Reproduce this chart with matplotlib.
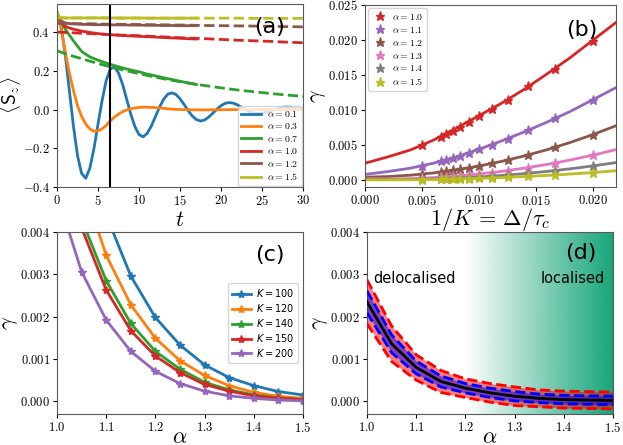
import numpy as np
import matplotlib
matplotlib.use("Agg")
import matplotlib.pyplot as plt
from matplotlib.ticker import FuncFormatter, MultipleLocator
from matplotlib.colors import to_rgb

plt.rcParams['mathtext.fontset'] = 'cm'
plt.rcParams['font.family'] = ['DejaVu Sans']

# ---------------- Panel (a) data ----------------
t_blue = [0, 0.5, 1.0, 1.5, 2.0, 2.5, 3.0, 3.5, 4.0, 4.5, 5.0, 5.5, 6.0, 6.5, 7.0,
          7.5, 8.0, 8.5, 9.0, 9.5, 10.0, 10.5, 11.0, 11.5, 12.0, 12.5, 13.0, 13.5, 14.0,
          14.5, 15.0, 15.5, 16.0, 16.5, 17.0, 17.5, 18.0, 18.5, 19.0, 19.5, 20.0, 20.5,
          21.0, 21.5, 22.0, 22.5, 23.0, 23.5, 24.0, 24.5, 25.0, 25.5, 26.0, 26.5, 27.0,
          27.5, 28.0, 28.5, 29.0, 29.5, 30.0]
sz_blue = [0.5, 0.430, 0.285, 0.101, -0.084, -0.237, -0.330, -0.355, -0.304, -0.203,
           -0.076, 0.047, 0.150, 0.210, 0.219, 0.189, 0.130, 0.053, -0.024, -0.088,
           -0.129, -0.141, -0.123, -0.086, -0.037, 0.012, 0.053, 0.079, 0.086, 0.078,
           0.056, 0.026, -0.006, -0.033, -0.052, -0.059, -0.054, -0.039, -0.019, 0.002,
           0.020, 0.032, 0.036, 0.033, 0.024, 0.012, -0.001, -0.011, -0.018, -0.021,
           -0.019, -0.015, -0.008, 0.000, 0.006, 0.011, 0.013, 0.012, 0.009, 0.005, 0.000]

t_orange = [0, 0.5, 1.0, 1.5, 2.0, 2.5, 3.0, 3.5, 4.0, 4.5, 5.0, 5.5, 6.0, 6.5, 7.0,
            7.5, 8.0, 8.5, 9.0, 9.5, 10.0, 10.5, 11, 12, 13, 14, 15, 16, 18, 20, 22,
            24, 26, 28, 30]
sz_orange = [0.5, 0.42, 0.30, 0.19, 0.10, 0.02, -0.035, -0.075, -0.100, -0.112, -0.110,
             -0.100, -0.082, -0.058, -0.040, -0.024, -0.011, -0.002, 0.004, 0.008, 0.011,
             0.012, 0.012, 0.010, 0.006, 0.002, 0.0, -0.001, -0.002, -0.001, 0.0,
             0.0, 0.0, 0.0, 0.0]

t_sim = [0, 0.25, 0.5, 1.0, 1.5, 2, 3, 4, 5, 6, 7, 8, 9, 10, 11, 12, 13, 14, 15, 16, 17]
sz_green = [0.5, 0.478, 0.455, 0.415, 0.385, 0.355, 0.300, 0.272, 0.255, 0.240, 0.227,
            0.215, 0.204, 0.195, 0.183, 0.174, 0.164, 0.155, 0.146, 0.137, 0.129]
sz_red = [0.5, 0.470, 0.450, 0.430, 0.421, 0.415, 0.405, 0.398, 0.392, 0.388, 0.385,
          0.382, 0.380, 0.378, 0.376, 0.374, 0.372, 0.370, 0.368, 0.366, 0.364]
sz_brown = [0.5, 0.470, 0.458, 0.447, 0.444, 0.442, 0.440, 0.439, 0.438, 0.438, 0.437,
            0.437, 0.436, 0.436, 0.435, 0.435, 0.434, 0.434, 0.433, 0.433, 0.433]
sz_yellow = [0.5, 0.480, 0.475, 0.473, 0.473, 0.473, 0.473, 0.473, 0.473, 0.473, 0.473,
             0.473, 0.473, 0.473, 0.472, 0.472, 0.472, 0.472, 0.472, 0.472, 0.472]

t_fit = [0, 2, 4, 6, 8, 10, 12, 14, 16, 18, 20, 22, 24, 26, 28, 30]
fit_green = [0.303, 0.275, 0.250, 0.226, 0.205, 0.185, 0.167, 0.151, 0.137, 0.124,
             0.112, 0.101, 0.092, 0.083, 0.075, 0.068]
fit_red = [0.400, 0.396, 0.392, 0.388, 0.384, 0.381, 0.377, 0.373, 0.369, 0.366,
           0.362, 0.358, 0.355, 0.352, 0.348, 0.345]
fit_brown = [0.445, 0.444, 0.443, 0.441, 0.440, 0.439, 0.438, 0.437, 0.436, 0.434,
             0.433, 0.432, 0.431, 0.430, 0.428, 0.427]
fit_yellow = [0.473, 0.473, 0.473, 0.473, 0.472, 0.472, 0.472, 0.472, 0.472, 0.472,
              0.472, 0.472, 0.471, 0.471, 0.471, 0.471]
t_marker = 6.5
labels_a = [r'$\alpha = 0.1$', r'$\alpha = 0.3$', r'$\alpha = 0.7$',
            r'$\alpha = 1.0$', r'$\alpha = 1.2$', r'$\alpha = 1.5$']

# ---------------- Panel (b) data ----------------
K_values = [200, 150, 140, 130, 120, 110, 100, 90, 80, 70, 60, 50]
gam_a10 = [0.0050, 0.0062, 0.0066, 0.0070, 0.0076, 0.0083, 0.0092, 0.0101, 0.0115, 0.0134, 0.0159, 0.0199]
gam_a11 = [0.0020, 0.0027, 0.0029, 0.0031, 0.0035, 0.0039, 0.0044, 0.0050, 0.0059, 0.0071, 0.0088, 0.0115]
gam_a12 = [0.00084, 0.00114, 0.00125, 0.00137, 0.00153, 0.00173, 0.0020, 0.00236, 0.00286, 0.00357, 0.00468, 0.0065]
gam_a13 = [0.00026, 0.0004, 0.00046, 0.00052, 0.0006, 0.00071, 0.00086, 0.00106, 0.00135, 0.00177, 0.00244, 0.00356]
gam_a14 = [0.00011, 0.00018, 0.00021, 0.00024, 0.00029, 0.00035, 0.00043, 0.00055, 0.00071, 0.00096, 0.00135, 0.00202]
gam_a15 = [0.00005, 0.00009, 0.00011, 0.00013, 0.00015, 0.00019, 0.00023, 0.00029, 0.00038, 0.00051, 0.00072, 0.00107]

invK_fit = [0, 0.002, 0.004, 0.006, 0.008, 0.010, 0.012, 0.014, 0.016, 0.018, 0.020, 0.022]
fitb_a10 = [0.0024, 0.0033, 0.0043, 0.0057, 0.0074, 0.0092, 0.0110, 0.0130, 0.0152, 0.0175, 0.0200, 0.0225]
fitb_a11 = [0.0008, 0.0012, 0.0017, 0.0024, 0.0033, 0.0044, 0.0056, 0.0069, 0.0083, 0.0098, 0.0115, 0.0132]
fitb_a12 = [0.0004, 0.00049, 0.00069, 0.00101, 0.00145, 0.0020, 0.00267, 0.00345, 0.00435, 0.00537, 0.0065, 0.00775]
fitb_a13 = [0.00016, 0.00014, 0.0002, 0.00034, 0.00056, 0.00086, 0.00124, 0.0017, 0.00224, 0.00286, 0.00356, 0.00434]
fitb_a14 = [0.0001, 0.00007, 0.00008, 0.00015, 0.00026, 0.00043, 0.00065, 0.00092, 0.00123, 0.0016, 0.00202, 0.00249]
fitb_a15 = [0.00003, 0.00002, 0.00003, 0.00007, 0.00014, 0.00023, 0.00035, 0.00049, 0.00066, 0.00085, 0.00107, 0.00132]
labels_b = [r'$\alpha = 1.0$', r'$\alpha = 1.1$', r'$\alpha = 1.2$',
            r'$\alpha = 1.3$', r'$\alpha = 1.4$', r'$\alpha = 1.5$']

# ---------------- Panel (c) data ----------------
alpha_c = [1.0, 1.05, 1.1, 1.15, 1.2, 1.25, 1.3, 1.35, 1.4, 1.45, 1.5]
gam_K100 = [0.0091, 0.0062, 0.0044, 0.00296, 0.00198, 0.00133, 0.00086, 0.00056, 0.00037, 0.00023, 0.00015]
gam_K120 = [0.0075, 0.0052, 0.00345, 0.00228, 0.00149, 0.00096, 0.00061, 0.00037, 0.00021, 0.00012, 0.00007]
gam_K140 = [0.0065, 0.0043, 0.00285, 0.00184, 0.00118, 0.00076, 0.00045, 0.00027, 0.00015, 0.00008, 0.00004]
gam_K150 = [0.0062, 0.0041, 0.00263, 0.00167, 0.00107, 0.00068, 0.0004, 0.00024, 0.00013, 0.00007, 0.00004]
gam_K200 = [0.0049, 0.00306, 0.00192, 0.00118, 0.00071, 0.00042, 0.00024, 0.00013, 0.00007, 0.00003, 0.00001]
labels_c = [r'$K = 100$', r'$K = 120$', r'$K = 140$', r'$K = 150$', r'$K = 200$']

# ---------------- Panel (d) data ----------------
alpha_d = [1.0, 1.05, 1.1, 1.15, 1.2, 1.25, 1.3, 1.35, 1.4, 1.45, 1.5]
gam_mean = [0.00235, 0.00136, 0.00080, 0.00047, 0.00031, 0.00020, 0.00012, 0.00007, 0.00004, 0.00003, 0.00002]
gam_sigma = [0.00026, 0.00021, 0.00015, 0.00013, 0.00011, 0.00011, 0.00011, 0.0001, 0.0001, 0.0001, 0.0001]
loc_start = 1.2
loc_color = '#17a57a'

# ---------------- Figure ----------------
fig = plt.figure(figsize=(6.23, 4.45), dpi=100)
W, H = 623, 445


def px_axes(l, r, t, b):
    return fig.add_axes([l / W, (H - b) / H, (r - l) / W, (b - t) / H])


axA = px_axes(57, 303, 4, 187)
axB = px_axes(365, 616, 5, 187)
axC = px_axes(57, 303, 232, 414)
axD = px_axes(367, 613, 232, 414)

TICK_FS = 9
LAB_FS = 16
LEG_FS = 7
PANEL_FS = 16
YPAD = 0


def fmt(dec):
    return FuncFormatter(lambda v, p: r'$%s$' % (('%.' + str(dec) + 'f') % v))


for ax in (axA, axB, axC, axD):
    ax.tick_params(labelsize=TICK_FS, length=3, pad=2)
    for s in ax.spines.values():
        s.set_color('0.35')

# (a)
ca = ['tab:blue', 'tab:orange', 'tab:green', 'tab:red', 'tab:brown', 'tab:olive']
lw = 2
axA.plot(t_blue, sz_blue, color=ca[0], lw=lw, label=labels_a[0])
axA.plot(t_orange, sz_orange, color=ca[1], lw=lw, label=labels_a[1])
axA.plot(t_sim, sz_green, color=ca[2], lw=lw, label=labels_a[2])
axA.plot(t_sim, sz_red, color=ca[3], lw=lw, label=labels_a[3])
axA.plot(t_sim, sz_brown, color=ca[4], lw=lw, label=labels_a[4])
axA.plot(t_sim, sz_yellow, color=ca[5], lw=lw, label=labels_a[5])
axA.plot(t_fit, fit_green, color=ca[2], lw=lw, ls='--')
axA.plot(t_fit, fit_red, color=ca[3], lw=lw, ls='--')
axA.plot(t_fit, fit_brown, color=ca[4], lw=lw, ls='--')
axA.plot(t_fit, fit_yellow, color=ca[5], lw=lw, ls='--')
axA.axvline(t_marker, color='k', lw=1.5)
axA.set_xlim(0, 30)
axA.set_ylim(-0.40, 0.545)
axA.xaxis.set_major_locator(MultipleLocator(5))
axA.yaxis.set_major_locator(MultipleLocator(0.2))
axA.xaxis.set_major_formatter(FuncFormatter(lambda v, p: r'$%d$' % v))
axA.yaxis.set_major_formatter(fmt(1))
axA.set_xlabel(r'$t$', fontsize=LAB_FS)
axA.xaxis.set_label_coords(0.5, -0.125)
axA.set_ylabel(r'$\langle \mathsf{S}_z \rangle$', fontsize=14, labelpad=YPAD)
axA.legend(loc='lower right', fontsize=LEG_FS, handlelength=2.0, labelspacing=0.25,
           borderpad=0.35, borderaxespad=0.15, handletextpad=0.6)
axA.text(0.80, 0.875, '(a)', transform=axA.transAxes, fontsize=PANEL_FS, va='center')

# (b)
invK = [1.0 / k for k in K_values]
cb = ['tab:red', 'tab:purple', 'tab:brown', 'tab:pink', 'tab:gray', 'tab:olive']
for g, f, c, lab in zip([gam_a10, gam_a11, gam_a12, gam_a13, gam_a14, gam_a15],
                        [fitb_a10, fitb_a11, fitb_a12, fitb_a13, fitb_a14, fitb_a15], cb, labels_b):
    axB.plot(invK_fit, f, color=c, lw=2)
    axB.plot(invK, g, ls='none', marker='*', ms=6.5, color=c, label=lab)
axB.set_xlim(0, 0.022)
axB.set_ylim(-0.001, 0.025)
axB.xaxis.set_major_locator(MultipleLocator(0.005))
axB.yaxis.set_major_locator(MultipleLocator(0.005))
axB.xaxis.set_major_formatter(fmt(3))
axB.yaxis.set_major_formatter(fmt(3))
axB.set_xlabel(r'$1/K\, =\, \Delta/\tau_c$', fontsize=LAB_FS)
axB.xaxis.set_label_coords(0.5, -0.105)
axB.set_ylabel(r'$\gamma$', fontsize=LAB_FS, labelpad=YPAD)
axB.legend(loc='upper left', fontsize=LEG_FS, numpoints=1, labelspacing=0.3,
           borderpad=0.4, borderaxespad=0.3, handletextpad=0.5, handlelength=1.6)
axB.text(0.80, 0.865, '(b)', transform=axB.transAxes, fontsize=PANEL_FS, va='center')

# (c)
cc = ['tab:blue', 'tab:orange', 'tab:green', 'tab:red', 'tab:purple']
for g, c, lab in zip([gam_K100, gam_K120, gam_K140, gam_K150, gam_K200], cc, labels_c):
    axC.plot(alpha_c, g, color=c, lw=2, marker='*', ms=6, label=lab)
axC.set_xlim(1.0, 1.5)
axC.set_ylim(-0.0003, 0.004)
axC.xaxis.set_major_locator(MultipleLocator(0.1))
axC.yaxis.set_major_locator(MultipleLocator(0.001))
axC.xaxis.set_major_formatter(fmt(1))
axC.yaxis.set_major_formatter(fmt(3))
axC.set_xlabel(r'$\alpha$', fontsize=LAB_FS)
axC.xaxis.set_label_coords(0.5, -0.07)
axC.set_ylabel(r'$\gamma$', fontsize=LAB_FS, labelpad=YPAD)
legC = axC.legend(loc='center right', fontsize=LEG_FS, labelspacing=0.3,
                  borderpad=0.4, borderaxespad=0.5, handlelength=2.0, handletextpad=0.5)
for tx in legC.get_texts():
    tx.set_math_fontfamily('dejavusans')
axC.text(0.805, 0.874, '(c)', transform=axC.transAxes, fontsize=PANEL_FS, va='center')

# (d)
ylo, yhi = -0.0003, 0.004
xs = np.linspace(1.0, 1.5, 400)
alpha_ch = np.clip((xs - loc_start) / (1.5 - loc_start), 0, 1)
img = np.zeros((2, len(xs), 4))
img[..., :3] = to_rgb(loc_color)
img[..., 3] = alpha_ch
axD.imshow(img, extent=[1.0, 1.5, ylo, yhi], aspect='auto', origin='lower', zorder=0)
m = np.array(gam_mean)
s = np.array(gam_sigma)
axD.fill_between(alpha_d, m - 2 * s, m + 2 * s, color='red', alpha=0.5, lw=0, zorder=2)
axD.fill_between(alpha_d, m - s, m + s, color='blue', alpha=0.5, lw=0, zorder=3)
axD.plot(alpha_d, m + 2 * s, 'r--', lw=2, zorder=4)
axD.plot(alpha_d, m - 2 * s, 'r--', lw=2, zorder=4)
axD.plot(alpha_d, m + s, 'b--', lw=2, zorder=5)
axD.plot(alpha_d, m - s, 'b--', lw=2, zorder=5)
axD.plot(alpha_d, m, 'k-', lw=2, zorder=6)
axD.set_xlim(1.0, 1.5)
axD.set_ylim(ylo, yhi)
axD.xaxis.set_major_locator(MultipleLocator(0.1))
axD.yaxis.set_major_locator(MultipleLocator(0.001))
axD.xaxis.set_major_formatter(fmt(1))
axD.yaxis.set_major_formatter(fmt(3))
axD.set_xlabel(r'$\alpha$', fontsize=LAB_FS)
axD.xaxis.set_label_coords(0.5, -0.07)
axD.set_ylabel(r'$\gamma$', fontsize=LAB_FS, labelpad=YPAD)
axD.text(1.012, 0.0029, 'delocalised', fontsize=10.5, va='center', ha='left', zorder=7)
axD.text(1.484, 0.0029, 'localised', fontsize=10.5, va='center', ha='right', zorder=7)
axD.text(0.805, 0.885, '(d)', transform=axD.transAxes, fontsize=PANEL_FS, va='center', zorder=7)

fig.savefig('out.png', dpi=100)
